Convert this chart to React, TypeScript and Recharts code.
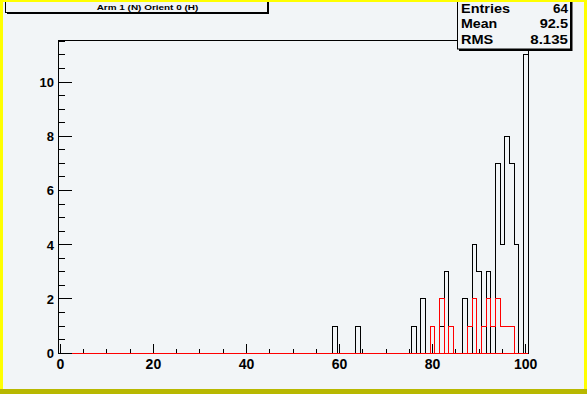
import React from 'react';
import { ComposedChart, Line, XAxis, YAxis, ReferenceLine } from 'recharts';

// Histogram binning: 101 bins of width 1 from -0.5 to 100.5
const X_MIN = -0.5;
const X_MAX = 100.5;
const BIN_WIDTH = 1;
const N_BINS = 101;
const Y_MIN = -0.03; // tiny margin so the zero outline is not clipped
const Y_MAX = 11.55;

// Black histogram (non-zero bins)
const blackBins = [59, 64, 76, 78, 82, 83, 87, 89, 90, 92, 94, 95, 96, 97, 98, 100];
const blackCounts = [1, 1, 1, 2, 1, 3, 2, 4, 3, 3, 7, 4, 8, 7, 4, 11];

// Red histogram (non-zero bins)
const redBins = [80, 82, 84, 88, 89, 91, 92, 93, 94, 95, 96, 97];
const redCounts = [1, 2, 1, 1, 2, 1, 2, 1, 2, 1, 1, 1];

// Axis ticks
const xTicks = [0, 5, 10, 15, 20, 25, 30, 35, 40, 45, 50, 55, 60, 65, 70, 75, 80, 85, 90, 95, 100];
const xLabels = [0, 20, 40, 60, 80, 100];
const yTicks = [0, 0.5, 1, 1.5, 2, 2.5, 3, 3.5, 4, 4.5, 5, 5.5, 6, 6.5, 7, 7.5, 8, 8.5, 9, 9.5, 10, 10.5, 11, 11.5];
const yLabels = [0, 2, 4, 6, 8, 10];

// Texts
const titleText = 'Arm 1 (N) Orient 0 (H)';
const statNames = ['Entries', 'Mean', 'RMS'];
const statValues = ['64', '92.5', '8.135'];

const FONT = '"Liberation Sans", Arial, Helvetica, sans-serif';
const BG = '#f2f5f7';

function countAt(bins: number[], counts: number[], center: number): number {
  const idx = bins.indexOf(center);
  return idx >= 0 ? counts[idx] : 0;
}

function buildRows() {
  const rows: { x: number; black: number; red: number }[] = [];
  for (let i = 0; i < N_BINS; i++) {
    const lo = X_MIN + i * BIN_WIDTH;
    const center = lo + BIN_WIDTH / 2;
    rows.push({ x: lo, black: countAt(blackBins, blackCounts, center), red: countAt(redBins, redCounts, center) });
  }
  const last = rows[rows.length - 1];
  rows.push({ x: X_MAX, black: last.black, red: last.red });
  rows.push({ x: X_MAX, black: 0, red: 0 });
  return rows;
}

const rows = buildRows();

const XTick = (props: any) => {
  const { x, payload, axisY } = props;
  const y = axisY;
  const v = payload.value;
  const major = xLabels.includes(v);
  return (
    <g>
      <line x1={x} x2={x} y1={y} y2={y - (major ? 9 : 4.5)} stroke="#000" strokeWidth={1} shapeRendering="crispEdges" />
      {major && (
        <text x={x} y={y + 15.5} textAnchor="middle" fontSize={14} fontWeight="bold" fontFamily={FONT} fill="#000">
          {v}
        </text>
      )}
    </g>
  );
};

const YTick = (props: any) => {
  const { x, y, payload } = props;
  const v = payload.value;
  const major = yLabels.includes(v);
  return (
    <g>
      <line x1={x} x2={x + (major ? 14 : 7)} y1={y} y2={y} stroke="#000" strokeWidth={1} shapeRendering="crispEdges" />
      {major && (
        <text x={x - 4} y={y + 4.8} textAnchor="end" fontSize={13} fontWeight="bold" fontFamily={FONT} fill="#000">
          {v}
        </text>
      )}
    </g>
  );
};

const statNameWidths = [49, 36.3, 32.3];
const statValueWidths = [15, 28.3, 37.7];
const statBaselines = [12.7, 28.3, 44.3];

export default function App() {
  return (
    <div style={{ position: 'absolute', left: 0, top: 0, width: 587, height: 394, background: BG, overflow: 'hidden' }}>
      <div style={{ position: 'absolute', left: 0, top: 0, shapeRendering: 'crispEdges' } as any}>
        <ComposedChart width={587} height={394} data={rows} margin={{ top: 40, right: 59, left: 0, bottom: 0 }}>
          <XAxis
            dataKey="x"
            type="number"
            domain={[X_MIN, X_MAX]}
            ticks={xTicks}
            interval={0}
            tick={(p: any) => <XTick {...p} axisY={353} />}
            tickLine={false}
            tickSize={0}
            tickMargin={0}
            height={40}
            axisLine={false}
          />
          <YAxis
            type="number"
            domain={[Y_MIN, Y_MAX]}
            ticks={yTicks}
            interval={0}
            tick={YTick}
            tickLine={false}
            tickSize={0}
            tickMargin={0}
            width={58}
            axisLine={{ stroke: '#000', strokeWidth: 1 }}
          />
          <ReferenceLine y={Y_MAX} stroke="#000" strokeWidth={1} />
          <ReferenceLine x={X_MAX} stroke="#000" strokeWidth={1} />
          <Line
            dataKey="black"
            type="stepAfter"
            stroke="#000"
            strokeWidth={1}
            dot={false}
            activeDot={false}
            isAnimationActive={false}
            {...({ zIndex: 400 } as any)}
          />
          <Line
            dataKey="red"
            type="stepAfter"
            stroke="#ff0000"
            strokeWidth={1}
            dot={false}
            activeDot={false}
            isAnimationActive={false}
            {...({ zIndex: 450 } as any)}
          />
          <ReferenceLine y={0} stroke="#ff0000" strokeWidth={1} ifOverflow="visible" {...({ zIndex: 460 } as any)} />
        </ComposedChart>
      </div>
      <svg width={587} height={394} style={{ position: 'absolute', left: 0, top: 0, pointerEvents: 'none' }}>
        {/* title box */}
        <rect x={7} y={-4} width={262} height={18} fill="#000" />
        <rect x={5.5} y={-5} width={262} height={17.5} fill={BG} stroke="#000" strokeWidth={1} />
        <text x={96.7} y={10.3} fontSize={7.5} fontWeight="bold" fontFamily={FONT} textLength={101.6} lengthAdjust="spacingAndGlyphs" fill="#000">
          {titleText}
        </text>
        {/* stats box */}
        <rect x={459} y={-4} width={113.5} height={55} fill="#000" />
        <rect x={457.5} y={-5} width={113} height={54} fill={BG} stroke="#000" strokeWidth={1} />
        {statNames.map((s, i) => (
          <text key={s} x={461} y={statBaselines[i]} fontSize={12} fontWeight="bold" fontFamily={FONT} textLength={statNameWidths[i]} lengthAdjust="spacingAndGlyphs" fill="#000">
            {s}
          </text>
        ))}
        {statValues.map((s, i) => (
          <text key={s} x={568 - statValueWidths[i]} y={statBaselines[i]} fontSize={12} fontWeight="bold" fontFamily={FONT} textLength={statValueWidths[i]} lengthAdjust="spacingAndGlyphs" fill="#000">
            {s}
          </text>
        ))}
        {/* canvas border */}
        <rect x={0} y={0} width={587} height={2} fill="#ffff00" />
        <rect x={0} y={0} width={3} height={394} fill="#ffff00" />
        <rect x={584} y={0} width={3} height={394} fill="#ffff00" />
        <rect x={0} y={389} width={587} height={5} fill="#b8b800" />
      </svg>
    </div>
  );
}
